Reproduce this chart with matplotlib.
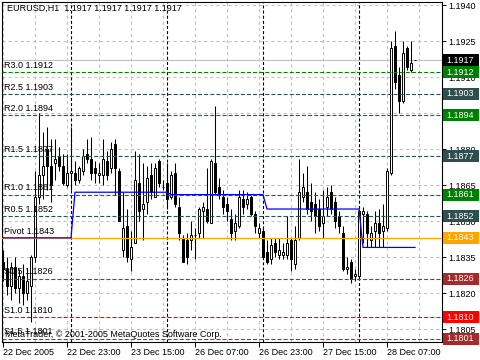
import matplotlib
matplotlib.use("Agg")
import matplotlib.pyplot as plt
from matplotlib.patches import Rectangle

plt.rcParams['font.family'] = ['Liberation Sans', 'DejaVu Sans']
plt.rcParams['lines.scale_dashes'] = False

# EURUSD H1 bars, first bar = 22 Dec 2005 07:00
opens = [1.1833, 1.1830, 1.1823, 1.1831, 1.1822, 1.1827, 1.1820, 1.1823, 1.1835, 1.1860,
         1.1869, 1.1880, 1.1873, 1.1874, 1.1877, 1.1873, 1.1865, 1.1870, 1.1870, 1.1867,
         1.1871, 1.1878, 1.1876, 1.1872, 1.1869, 1.1869, 1.1875, 1.1872, 1.1882, 1.1871,
         1.1838, 1.1848, 1.1834, 1.1841, 1.1866, 1.1855, 1.1858, 1.1869, 1.1860, 1.1875,
         1.1864, 1.1866, 1.1860, 1.1870, 1.1856, 1.1843, 1.1842, 1.1842, 1.1844, 1.1845,
         1.1854, 1.1855, 1.1849, 1.1874, 1.1864, 1.1860, 1.1857, 1.1851, 1.1846, 1.1848,
         1.1859, 1.1857, 1.1860, 1.1853, 1.1845, 1.1846, 1.1837, 1.1834, 1.1841, 1.1836,
         1.1836, 1.1836, 1.1842, 1.1832, 1.1843, 1.1860, 1.1862, 1.1858, 1.1857, 1.1855,
         1.1849, 1.1856, 1.1862, 1.1858, 1.1852, 1.1845, 1.1830, 1.1833, 1.1827, 1.1827,
         1.1853, 1.1853, 1.1842, 1.1846, 1.1849, 1.1846, 1.1847, 1.1870, 1.1923, 1.1911,
         1.1900, 1.1922, 1.1913, 1.1917]
highs = [1.1838, 1.1835, 1.1833, 1.1835, 1.1830, 1.1832, 1.1830, 1.1836, 1.1871, 1.1895,
         1.1887, 1.1889, 1.1884, 1.1884, 1.1881, 1.1878, 1.1878, 1.1889, 1.1875, 1.1873,
         1.1880, 1.1884, 1.1885, 1.1875, 1.1874, 1.1884, 1.1879, 1.1883, 1.1884, 1.1872,
         1.1862, 1.1855, 1.1846, 1.1879, 1.1878, 1.1874, 1.1873, 1.1874, 1.1874, 1.1876,
         1.1867, 1.1874, 1.1871, 1.1874, 1.1860, 1.1844, 1.1845, 1.1850, 1.1847, 1.1856,
         1.1858, 1.1872, 1.1876, 1.1898, 1.1868, 1.1863, 1.1860, 1.1855, 1.1853, 1.1863,
         1.1863, 1.1862, 1.1861, 1.1854, 1.1849, 1.1847, 1.1842, 1.1843, 1.1843, 1.1843,
         1.1841, 1.1852, 1.1843, 1.1848, 1.1876, 1.1870, 1.1873, 1.1866, 1.1862, 1.1859,
         1.1863, 1.1864, 1.1865, 1.1860, 1.1854, 1.1848, 1.1835, 1.1834, 1.1830, 1.1855,
         1.1856, 1.1854, 1.1848, 1.1854, 1.1855, 1.1857, 1.1872, 1.1925, 1.1929, 1.1914,
         1.1925, 1.1923, 1.1925, 1.1917]
lows = [1.1825, 1.1819, 1.1817, 1.1820, 1.1816, 1.1815, 1.1817, 1.1808, 1.1833, 1.1857,
        1.1859, 1.1863, 1.1858, 1.1867, 1.1871, 1.1865, 1.1864, 1.1863, 1.1865, 1.1866,
        1.1869, 1.1874, 1.1867, 1.1866, 1.1866, 1.1865, 1.1867, 1.1870, 1.1861, 1.1850,
        1.1835, 1.1833, 1.1829, 1.1841, 1.1850, 1.1842, 1.1853, 1.1859, 1.1860, 1.1864,
        1.1863, 1.1855, 1.1859, 1.1856, 1.1842, 1.1833, 1.1832, 1.1838, 1.1834, 1.1843,
        1.1843, 1.1849, 1.1849, 1.1861, 1.1859, 1.1853, 1.1850, 1.1842, 1.1842, 1.1847,
        1.1853, 1.1855, 1.1852, 1.1845, 1.1843, 1.1834, 1.1832, 1.1832, 1.1835, 1.1834,
        1.1834, 1.1834, 1.1829, 1.1830, 1.1842, 1.1858, 1.1853, 1.1850, 1.1845, 1.1846,
        1.1843, 1.1852, 1.1853, 1.1847, 1.1845, 1.1829, 1.1828, 1.1824, 1.1825, 1.1826,
        1.1841, 1.1839, 1.1839, 1.1839, 1.1839, 1.1839, 1.1846, 1.1869, 1.1905, 1.1895,
        1.1899, 1.1913, 1.1912, 1.1917]
closes = [1.1830, 1.1823, 1.1831, 1.1822, 1.1827, 1.1820, 1.1825, 1.1835, 1.1860, 1.1869,
          1.1873, 1.1873, 1.1865, 1.1876, 1.1873, 1.1866, 1.1870, 1.1871, 1.1867, 1.1872,
          1.1877, 1.1876, 1.1870, 1.1870, 1.1870, 1.1876, 1.1869, 1.1880, 1.1872, 1.1850,
          1.1847, 1.1835, 1.1839, 1.1867, 1.1854, 1.1857, 1.1868, 1.1862, 1.1872, 1.1866,
          1.1864, 1.1859, 1.1869, 1.1857, 1.1845, 1.1833, 1.1835, 1.1844, 1.1844, 1.1855,
          1.1856, 1.1850, 1.1875, 1.1862, 1.1861, 1.1856, 1.1854, 1.1845, 1.1849, 1.1860,
          1.1856, 1.1859, 1.1853, 1.1848, 1.1847, 1.1835, 1.1833, 1.1840, 1.1837, 1.1838,
          1.1837, 1.1841, 1.1834, 1.1842, 1.1862, 1.1864, 1.1855, 1.1854, 1.1852, 1.1848,
          1.1852, 1.1860, 1.1855, 1.1850, 1.1848, 1.1830, 1.1831, 1.1826, 1.1828, 1.1854,
          1.1854, 1.1845, 1.1845, 1.1849, 1.1845, 1.1848, 1.1871, 1.1922, 1.1908, 1.1900,
          1.1920, 1.1914, 1.1916, 1.1917]

# blue step line: one level per trading day and the bar where it starts
day_start = [0, 18, 42, 66, 90]
day_level = [1.1843, 1.1862, 1.1861, 1.1855, 1.1839]

separators = [17, 41, 65, 89]  # midnight bars

time_ticks = [0, 16, 32, 48, 64, 80, 96]
time_labels = ["22 Dec 2005", "22 Dec 23:00", "23 Dec 15:00", "26 Dec 07:00",
               "26 Dec 23:00", "27 Dec 15:00", "28 Dec 07:00"]

price_ticks = [1.1940, 1.1925, 1.1910, 1.1895, 1.1880, 1.1865, 1.1850, 1.1835, 1.1820, 1.1805]

level_names = ["R3.0", "R2.5", "R2.0", "R1.5", "R1.0", "R0.5", "Pivot", "S0.5", "S1.0", "S1.5"]
level_values = [1.1912, 1.1903, 1.1894, 1.1877, 1.1861, 1.1852, 1.1843, 1.1826, 1.1810, 1.1801]
level_colors = ["#008000", "#2F4F4F", "#008000", "#2F4F4F", "#008000", "#2F4F4F",
                "#FFA500", "#A52A2A", "#FF0000", "#A52A2A"]

bid = 1.1917

FS = 6.5

fig = plt.figure(figsize=(4.8, 3.6), dpi=100)
ax = fig.add_axes([2 / 480, 18 / 360, 440 / 480, 340 / 360])
ax.set_xlim(-0.25, 109.75)
ax.set_ylim(1.17996, 1.194125)

# grid
for p in price_ticks:
    ax.axhline(p, color="#C0C0C0", lw=0.8, dashes=(2.2, 2.2), zorder=0)
for b in range(0, 110, 8):
    ax.axvline(b, color="#C0C0C0", lw=0.8, dashes=(2.2, 2.2), zorder=0)
for b in separators:
    ax.axvline(b, color="black", lw=0.8, dashes=(2.2, 1.5), zorder=0.5)

# candles
n = len(opens)
for i in range(n):
    o, h, l, c = opens[i], highs[i], lows[i], closes[i]
    ax.plot([i, i], [l, h], color="black", lw=0.75, zorder=2, solid_capstyle="butt")
    fc = "white" if c >= o else "black"
    ax.add_patch(Rectangle((i - 0.3, min(o, c)), 0.6, abs(c - o), facecolor=fc,
                           edgecolor="black", lw=0.7, zorder=2.2))

# bid line
ax.axhline(bid, color="#C0C0C0", lw=0.8, zorder=1)

# pivot levels
for name, v, col in zip(level_names, level_values, level_colors):
    if name == "Pivot":
        ax.axhline(v, color=col, lw=0.9, zorder=3)
    else:
        ax.axhline(v, color=col, lw=0.8, dashes=(2.9, 1.5), zorder=3)
    ax.annotate(f"{name} {v:.4f}", xy=(0, v), xycoords=("axes fraction", "data"),
                xytext=(1.8, 1.6), textcoords="offset points", fontsize=FS,
                ha="left", va="bottom", color="black", zorder=5)

# blue daily line
blue = []
for k in range(len(day_start)):
    end = day_start[k + 1] if k + 1 < len(day_start) else n
    blue += [day_level[k]] * (end - day_start[k])
ax.plot(range(n), blue, color="#0000FF", lw=0.9, zorder=3.5)

# price boxes on the right
boxes = [(bid, "black")] + list(zip(level_values, level_colors))
for v, col in boxes:
    ax.add_patch(Rectangle((1.002, v - 0.00025), 36 / 440, 0.0005,
                           transform=ax.get_yaxis_transform(), facecolor=col,
                           edgecolor="none", clip_on=False, zorder=6))
    ax.text(1.0 + 18.5 / 440, v, f"{v:.4f}", transform=ax.get_yaxis_transform(),
            fontsize=FS, color="white", ha="center", va="center", zorder=7, clip_on=False)

# axes
ax.set_yticks(price_ticks)
ax.set_yticklabels([f"{p:.4f}" for p in price_ticks])
ax.yaxis.tick_right()
ax.tick_params(axis="y", length=3, width=0.7, pad=1.5, labelsize=FS, direction="out")
ax.set_xticks(time_ticks)
ax.set_xticklabels(time_labels)
for lbl in ax.get_xticklabels():
    lbl.set_horizontalalignment("left")
ax.tick_params(axis="x", length=3.5, width=0.7, pad=0.5, labelsize=FS, direction="out")
for s in ax.spines.values():
    s.set_color("black")
    s.set_linewidth(0.8)

# header / footer text
ax.annotate(f"EURUSD,H1  {opens[-1]:.4f} {highs[-1]:.4f} {lows[-1]:.4f} {closes[-1]:.4f}",
            xy=(0, 1), xycoords="axes fraction", xytext=(3.5, -1.5),
            textcoords="offset points", fontsize=FS, ha="left", va="top", zorder=5)
ax.annotate("MetaTrader, \u00a9 2001-2005 MetaQuotes Software Corp.",
            xy=(0, 0), xycoords="axes fraction", xytext=(2.5, 2.5),
            textcoords="offset points", fontsize=FS, ha="left", va="bottom", zorder=5)

fig.savefig("out.png", dpi=100)
